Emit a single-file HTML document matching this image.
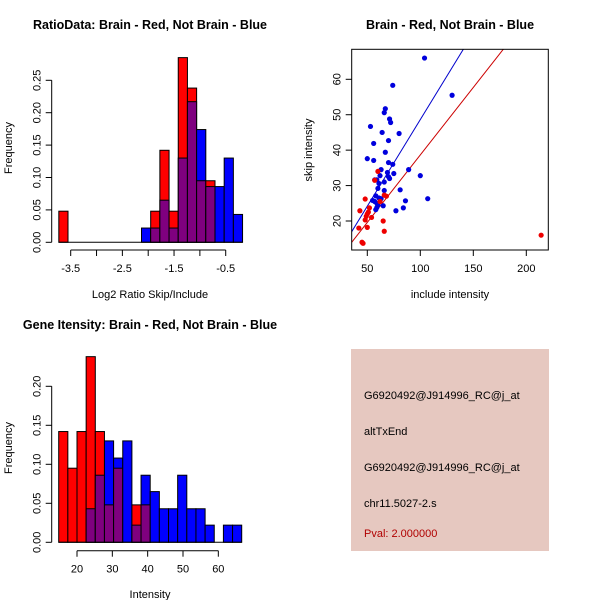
<!DOCTYPE html>
<html><head><meta charset="utf-8"><style>
body{margin:0;background:#fff;}
svg{display:block;font-family:"Liberation Sans",sans-serif;}
</style></head><body>
<svg id="c" width="600" height="600" viewBox="0 0 600 600" xmlns="http://www.w3.org/2000/svg">
<rect x="0" y="0" width="600" height="600" fill="#fff"/>
<text x="150" y="29" text-anchor="middle" font-size="12.5" font-weight="bold">RatioData: Brain - Red, Not Brain - Blue</text>
<text x="450" y="29" text-anchor="middle" font-size="12.5" font-weight="bold">Brain - Red, Not Brain - Blue</text>
<text x="150" y="329" text-anchor="middle" font-size="12.5" font-weight="bold">Gene Itensity: Brain - Red, Not Brain - Blue</text>
<text x="150" y="298" text-anchor="middle" font-size="11">Log2 Ratio Skip/Include</text>
<text x="150" y="598" text-anchor="middle" font-size="11">Intensity</text>
<text x="450" y="298" text-anchor="middle" font-size="11">include intensity</text>
<text transform="translate(12,148) rotate(-90)" text-anchor="middle" font-size="11">Frequency</text>
<text transform="translate(12,448) rotate(-90)" text-anchor="middle" font-size="11">Frequency</text>
<text transform="translate(312,150) rotate(-90)" text-anchor="middle" font-size="11">skip intensity</text>
<g>
<rect x="351" y="349" width="198" height="202" fill="#e6c8c0"/>
<text x="364" y="399" font-size="11">G6920492@J914996_RC@j_at</text>
<text x="364" y="435" font-size="11">altTxEnd</text>
<text x="364" y="471" font-size="11">G6920492@J914996_RC@j_at</text>
<text x="364" y="507" font-size="11">chr11.5027-2.s</text>
<text x="364" y="537" font-size="11" fill="#b00000">Pval: 2.000000</text>
</g>
</svg>
<script>
// ---- ratio histogram data ----
const ratioStart = -3.73;
const ratioBinWidth = 0.1778;
const ratioRed = [0.048,0,0,0,0,0,0,0,0,0,0.048,0.142,0.048,0.285,0.238,0.095,0.095,0,0,0];
const ratioBlue = [0,0,0,0,0,0,0,0,0,0.022,0.022,0.065,0.022,0.130,0.217,0.174,0.086,0.086,0.130,0.043];
const ratioXTicks = [-3.5,-3,-2.5,-2,-1.5,-1,-0.5];
const ratioXLabels = ["-3.5","","-2.5","","-1.5","","-0.5"];
const ratioYTicks = [0,0.05,0.10,0.15,0.20,0.25];
const ratioYLabels = ["0.00","0.05","0.10","0.15","0.20","0.25"];
// ---- intensity histogram data ----
const intStart = 14.82;
const intBinWidth = 2.59;
const intRed = [0.142,0.095,0.142,0.238,0.142,0.048,0.095,0,0.048,0.048,0,0,0,0,0,0,0,0,0,0];
const intBlue = [0,0,0,0.043,0.086,0.130,0.108,0.130,0.022,0.086,0.065,0.043,0.043,0.086,0.043,0.043,0.022,0,0.022,0.022];
const intXTicks = [20,30,40,50,60];
const intXLabels = ["20","30","40","50","60"];
const intYTicks = [0,0.05,0.10,0.15,0.20];
const intYLabels = ["0.00","0.05","0.10","0.15","0.20"];
// ---- scatter data ----
const blueInclude = [104,74,130,67,66,71,72,53,64,80,70,56,67,50,56,70,74,89,63,69,75,62,100,70,71,57,59,66,61,60,81,66,58,61,107,63,55,57,86,59,60,65,59,84,77,58];
const blueSkip = [66,58.3,55.5,51.7,50.6,48.8,47.8,46.7,45,44.7,42.7,41.9,39.4,37.6,37.1,36.5,36,34.5,34.5,33.7,33.4,32.8,32.8,32.5,32,31.6,31.6,31,30.6,29.2,28.8,28.6,27.1,26.5,26.3,26.3,25.8,25.5,25.7,25,24.5,24.3,23.8,23.7,22.9,23.2];
const redInclude = [60,57,48,68,66,62,52,43,50,51,49,54,48,65,50,42,66,45,46,214];
const redSkip = [34,31.5,26.2,27,27.3,25.5,23.7,22.9,22,22.5,21.3,21,20.3,20,18.2,18,17.1,14,13.7,16];
const fitIntercept = [-0.27,0.55];
const fitSlope = [0.489,0.381];
const scXTicks = [50,100,150,200];
const scXLabels = ["50","100","150","200"];
const scYTicks = [20,30,40,50,60];
const scYLabels = ["20","30","40","50","60"];

const svg = document.getElementById('c');
const NS = 'http://www.w3.org/2000/svg';
function mk(tag, attrs, parent){const e=document.createElementNS(NS,tag);for(const k in attrs)e.setAttribute(k,attrs[k]);(parent||svg).appendChild(e);return e;}

function hist(opt){
  const g = mk('g',{});
  
  
  const xs = v => opt.x0px + (v - opt.x0) * opt.xk;
  const ys = v => opt.y0px - v * opt.yk;
  const n = opt.red.length;
  for (let i=0;i<n;i++){
    const a = opt.start + i*opt.w, b = a + opt.w;
    const r = opt.red[i], bl = opt.blue[i];
    const lo = Math.min(r,bl), hi = Math.max(r,bl);
    if (hi>0){
      const e = mk('rect',{x:xs(a),y:ys(hi),width:xs(b)-xs(a),height:ys(0)-ys(hi),fill:(r>bl?'#ff0000':'#0000ff'),stroke:'#000','stroke-width':1},g);
      
      
    }
    if (lo>0){
      const e = mk('rect',{x:xs(a),y:ys(lo),width:xs(b)-xs(a),height:ys(0)-ys(lo),fill:'#7f007f',stroke:'#000','stroke-width':1},g);
      
      
    }
  }
  const base = mk('line',{x1:xs(opt.start),x2:xs(opt.start+n*opt.w),y1:ys(0),y2:ys(0),stroke:'#000'},g);
  
  
  const yt = opt.yTicks;
  mk('line',{x1:opt.yAxisX,x2:opt.yAxisX,y1:ys(yt[0]),y2:ys(yt[yt.length-1]),stroke:'#000'},g);
  yt.forEach((v,i)=>{
    mk('line',{x1:opt.yAxisX-6,x2:opt.yAxisX,y1:ys(v),y2:ys(v),stroke:'#000'},g);
    const t = mk('text',{transform:`translate(${opt.yAxisX-11},${ys(v)}) rotate(-90)`,'text-anchor':'middle','font-size':11},g);
    t.textContent = opt.yLabels[i];
    
    
  });
  const xt = opt.xTicks;
  mk('line',{x1:xs(xt[0]),x2:xs(xt[xt.length-1]),y1:opt.xAxisY,y2:opt.xAxisY,stroke:'#000'},g);
  xt.forEach((v,i)=>{
    mk('line',{x1:xs(v),x2:xs(v),y1:opt.xAxisY,y2:opt.xAxisY+6,stroke:'#000'},g);
    if (opt.xLabels[i]){
      const t = mk('text',{x:xs(v),y:opt.xAxisY+22,'text-anchor':'middle','font-size':11},g);
      t.textContent = opt.xLabels[i];
      
      
    }
  });
}
hist({name:'ratio-histogram',red:ratioRed,blue:ratioBlue,start:ratioStart,w:ratioBinWidth,x0:-3.5,x0px:70.7,xk:51.67,y0px:242.3,yk:648,yAxisX:51.7,xAxisY:250,xTicks:ratioXTicks,xLabels:ratioXLabels,yTicks:ratioYTicks,yLabels:ratioYLabels});
hist({name:'intensity-histogram',red:intRed,blue:intBlue,start:intStart,w:intBinWidth,x0:20,x0px:77,xk:3.533,y0px:542.3,yk:780,yAxisX:51.7,xAxisY:550.7,xTicks:intXTicks,xLabels:intXLabels,yTicks:intYTicks,yLabels:intYLabels});

(function(){
  const g = mk('g',{});
  
  
  const L=351.7,R=548.3,T=49.3,B=250;
  const xs = v => 367.3 + (v-50)*1.06;
  const ys = v => 221 - (v-20)*3.5425;
  const defs = mk('defs',{},g);
  const cp = mk('clipPath',{id:'clipsc'},defs);
  mk('rect',{x:L,y:T,width:R-L,height:B-T},cp);
  const cols = ['#0000cc','#cc0000'];
  const xa = 30, xb = 230;
  fitSlope.forEach((s,i)=>{
    const ln = mk('line',{x1:xs(xa),y1:ys(fitIntercept[i]+s*xa),x2:xs(xb),y2:ys(fitIntercept[i]+s*xb),stroke:cols[i],'stroke-width':1,'clip-path':'url(#clipsc)'},g);
    
    
  });
  blueInclude.forEach((v,i)=>{
    const c = mk('circle',{cx:xs(v),cy:ys(blueSkip[i]),r:2.6,fill:'#0000dd'},g);
    
    
  });
  redInclude.forEach((v,i)=>{
    const c = mk('circle',{cx:xs(v),cy:ys(redSkip[i]),r:2.6,fill:'#ee0000'},g);
    
    
  });
  const box = mk('rect',{x:L,y:T,width:R-L,height:B-T,fill:'none',stroke:'#000'},g);
  
  
  scXTicks.forEach((v,i)=>{
    mk('line',{x1:xs(v),x2:xs(v),y1:B,y2:B+6,stroke:'#000'},g);
    const t = mk('text',{x:xs(v),y:B+22,'text-anchor':'middle','font-size':11},g);
    t.textContent = scXLabels[i];
    
    
  });
  scYTicks.forEach((v,i)=>{
    mk('line',{x1:L-6,x2:L,y1:ys(v),y2:ys(v),stroke:'#000'},g);
    const t = mk('text',{transform:`translate(${L-11},${ys(v)}) rotate(-90)`,'text-anchor':'middle','font-size':11},g);
    t.textContent = scYLabels[i];
    
    
  });
})();
</script>
</body></html>
